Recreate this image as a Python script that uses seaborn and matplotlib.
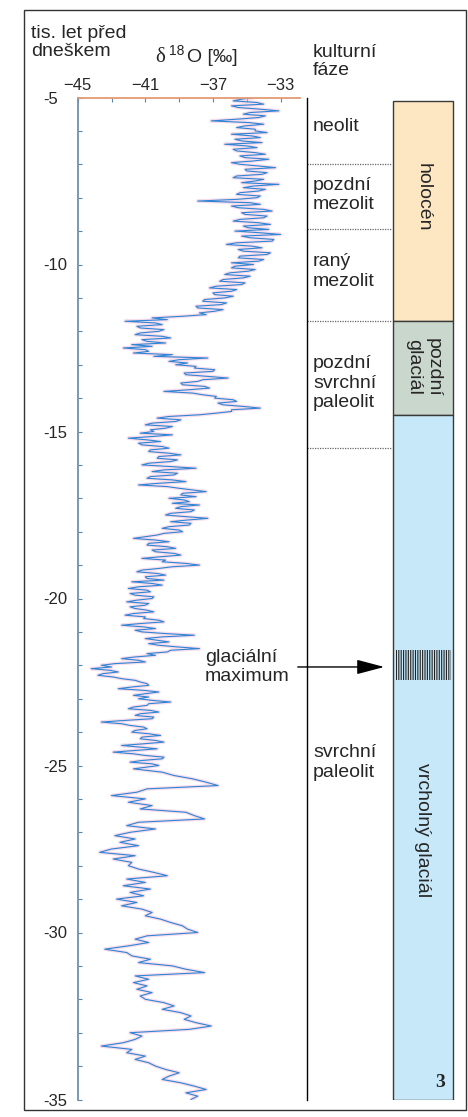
import numpy as np
import pandas as pd
import seaborn as sns
from matplotlib import pyplot as plt
from matplotlib.patches import Rectangle

# delta 18O [permil] precteno z obrazku
# cast A: -5.0 az -24.95 tis. let, krok 0.05 (jeden radek = 1 tis. let)
d18o_a = [
    -34.6, -35.3, -35.8, -34.4, -34.0, -35.9, -35.5, -34.2, -33.1, -34.8, -35.2, -33.9, -34.3, -35.6, -37.1, -34.9, -34.0, -35.1, -35.6, -34.5,  # -5
    -34.5, -33.8, -35.9, -34.7, -34.2, -35.7, -35.3, -34.1, -36.3, -35.0, -34.4, -35.8, -35.6, -34.5, -33.9, -35.4, -35.1, -33.7, -34.6, -35.9,  # -6
    -35.4, -34.3, -33.3, -35.1, -35.0, -33.8, -34.1, -35.6, -35.8, -34.0, -34.5, -35.3, -33.1, -34.6, -35.2, -33.9, -34.3, -35.4, -35.6, -34.2,  # -7
    -34.4, -35.6, -37.9, -34.8, -34.2, -35.9, -35.5, -34.0, -33.5, -35.3, -35.1, -33.8, -34.0, -35.4, -35.8, -34.3, -33.6, -35.2, -34.9, -33.7,  # -8
    -35.7, -34.2, -33.0, -35.3, -34.8, -33.4, -33.5, -35.6, -36.2, -34.7, -34.1, -35.5, -35.2, -33.6, -33.8, -35.4, -35.5, -34.0, -34.3, -35.9,  # -9
    -34.6, -35.7, -35.9, -34.5, -34.9, -36.0, -36.3, -34.8, -35.2, -36.4, -36.6, -35.1, -35.3, -36.8, -37.2, -35.6, -35.9, -37.0, -36.9, -35.8,  # -10
    -36.3, -37.5, -37.6, -36.2, -36.5, -38.0, -37.9, -36.4, -36.9, -37.8, -37.4, -38.8, -40.6, -39.7, -42.2, -40.4, -40.0, -41.5, -41.3, -39.9,  # -11
    -40.2, -41.3, -41.6, -40.0, -39.5, -41.2, -40.9, -39.8, -41.8, -40.6, -42.3, -41.0, -40.8, -41.7, -39.4, -40.5, -37.3, -39.0, -39.6, -38.5,  # -12
    -39.2, -38.0, -38.1, -36.9, -37.0, -38.7, -38.6, -37.3, -36.1, -37.6, -37.9, -38.9, -38.8, -37.5, -37.2, -38.4, -39.9, -38.2, -37.6, -36.8,  # -13
    -36.9, -35.8, -35.6, -36.7, -36.4, -35.2, -34.2, -35.9, -35.9, -36.8, -37.8, -39.6, -40.3, -38.9, -39.2, -40.6, -41.0, -39.4, -39.8, -40.7,  # -14
    -40.5, -41.3, -39.4, -40.6, -42.0, -40.9, -40.1, -41.4, -41.2, -40.0, -39.6, -40.7, -40.8, -39.6, -38.9, -40.2, -40.3, -39.1, -39.5, -40.8,  # -15
    -41.2, -39.5, -38.0, -39.9, -40.6, -39.1, -39.3, -40.7, -40.9, -39.4, -38.6, -40.2, -41.4, -39.7, -39.0, -38.2, -37.4, -38.8, -38.9, -38.0,  # -16
    -39.6, -38.7, -38.4, -39.4, -37.8, -38.9, -39.2, -38.1, -38.3, -39.5, -39.8, -38.6, -37.3, -38.5, -39.5, -38.3, -38.4, -39.6, -40.0, -39.0,  # -17
    -38.8, -39.9, -40.3, -41.0, -41.7, -40.4, -39.6, -40.8, -40.9, -39.7, -39.2, -40.6, -40.4, -39.3, -38.9, -40.1, -41.2, -39.8, -40.0, -38.6,  # -18
    -37.8, -39.4, -40.2, -41.2, -41.5, -40.3, -39.8, -41.0, -40.9, -39.9, -41.8, -40.6, -40.0, -41.4, -42.0, -40.9, -40.7, -41.9, -41.6, -40.5,  # -19
    -40.6, -41.5, -42.1, -40.8, -41.0, -41.9, -41.6, -40.9, -40.5, -41.7, -42.2, -41.0, -41.1, -40.2, -39.9, -41.3, -42.4, -41.1, -40.4, -41.6,  # -20
    -41.2, -39.8, -38.1, -40.0, -41.0, -40.3, -39.6, -40.8, -40.2, -39.1, -37.8, -39.5, -39.7, -40.9, -40.4, -41.6, -42.4, -41.4, -41.0, -42.8,  # -21
    -43.6, -43.0, -44.2, -43.1, -42.6, -43.5, -43.8, -42.9, -42.4, -41.6, -41.3, -40.9, -40.8, -41.8, -42.6, -41.1, -40.2, -41.0, -41.7, -40.8,  # -22
    -41.4, -40.6, -39.5, -40.8, -40.9, -41.7, -42.0, -40.7, -40.2, -41.3, -41.6, -40.5, -40.6, -42.2, -43.6, -42.4, -41.9, -41.1, -40.9, -41.6,  # -23
    -41.8, -40.8, -40.1, -41.2, -41.3, -40.4, -39.9, -41.1, -42.4, -41.3, -40.3, -41.6, -42.9, -41.7, -41.0, -39.9, -40.0, -41.2, -41.9, -40.6,  # -24
]
# cast B: -25.0 az -35.0 tis. let, krok 0.1
d18o_b = [
    -40.2, -41.7, -40.0, -39.3, -38.2, -37.4, -36.7, -40.9, -41.5, -43.0,   # -25
    -41.0, -42.0, -40.6, -41.3, -38.6, -38.1, -37.5, -41.4, -42.1, -40.4,   # -26
    -41.9, -42.8, -41.6, -42.5, -41.4, -43.0, -43.7, -41.6, -42.9, -41.8,   # -27
    -42.0, -41.4, -40.5, -39.7, -42.1, -41.0, -42.3, -40.7, -41.9, -41.1,   # -28
    -42.7, -41.5, -42.4, -41.2, -40.6, -41.0, -40.1, -39.5, -38.8, -38.5,   # -29
    -37.9, -40.9, -41.6, -40.8, -42.0, -43.4, -42.1, -41.8, -40.7, -41.4,   # -30
    -39.4, -38.6, -37.5, -41.6, -40.8, -41.7, -40.9, -41.5, -40.6, -41.3,   # -31
    -41.0, -39.9, -39.3, -40.0, -38.9, -38.3, -38.7, -38.0, -37.1, -38.4,   # -32
    -41.9, -41.2, -41.6, -42.3, -43.6, -41.8, -42.1, -41.0, -41.6, -40.8,   # -33
    -40.4, -39.8, -39.0, -39.6, -40.0, -38.9, -38.1, -37.4, -38.6, -37.9,   # -34
    -38.3,                                                                  # -35
]

# kulturni faze - hranice (tis. let)
culture_bounds = [-7.0, -8.95, -11.7, -15.5]
culture_labels = ['neolit', 'pozdní\nmezolit', 'raný\nmezolit',
                  'pozdní\nsvrchní\npaleolit', 'svrchní\npaleolit']
culture_label_age = [-5.88, -7.92, -10.21, -13.55, -24.91]

# obdobi
period_top = [-5.1, -11.7, -14.5]
period_bottom = [-11.7, -14.5, -35.0]
period_labels = ['holocén', 'pozdní\nglaciál', 'vrcholný glaciál']
period_label_age = [-7.98, -13.07, -26.93]
period_colors = ['#fde7c3', '#c9d7cd', '#c6e8f8']

# glacialni maximum
lgm_top = -21.55
lgm_bottom = -22.45
lgm_age = -22.05

age_a = np.round(-5.0 - 0.05 * np.arange(len(d18o_a)), 2)
age_b = np.round(-25.0 - 0.1 * np.arange(len(d18o_b)), 2)
data = pd.DataFrame({'age': np.concatenate([age_a, age_b]),
                     'd18o': d18o_a + d18o_b})

sns.set_style('white')
plt.rcParams['font.family'] = ['Liberation Sans', 'DejaVu Sans']

W, H = 468, 1117
fig = plt.figure(figsize=(W / 100, H / 100), dpi=100)

def fx(px):
    return px / W

def fy(py):
    return 1 - py / H

ax_bottom = fy(1099.5)
ax_height = 1002 / H
ax = fig.add_axes([fx(77.7), ax_bottom, 222.3 / W, ax_height])

sns.lineplot(data=data, x='d18o', y='age', sort=False, estimator=None,
             color='#f0bcd8', lw=2.6, alpha=0.5, ax=ax)
sns.lineplot(data=data, x='d18o', y='age', sort=False, estimator=None,
             color='#2f84d4', lw=0.8, ax=ax)

ax.set_xlim(-45, -31.85)
ax.set_ylim(-35, -5)
ax.set_xlabel('')
ax.set_ylabel('')
ax.xaxis.tick_top()
ax.set_xticks([-45, -41, -37, -33])
ax.set_xticks([-43, -39, -35], minor=True)
ax.set_yticks(np.arange(-35, -4, 5))
ax.set_yticks(np.arange(-35, -4, 1), minor=True)
ax.set_yticklabels([str(v) for v in range(-35, -4, 5)])
ax.tick_params(axis='x', which='both', direction='in', length=3, width=0.8,
               color='#5b86a8', pad=3, labelsize=12, top=True, bottom=False)
ax.tick_params(axis='y', which='both', direction='in', length=3, width=0.8,
               color='#5b86a8', pad=25, labelsize=12, left=True)
for lab in ax.get_yticklabels():
    lab.set_ha('left')
ax.spines['right'].set_visible(False)
ax.spines['bottom'].set_visible(False)
ax.spines['left'].set_color('#6f8fae')
ax.spines['top'].set_color('#e39a74')
ax.spines['left'].set_linewidth(1.3)
ax.spines['top'].set_linewidth(1.3)
ax.set_facecolor('none')

# prava cast - kulturni faze a obdobi
ax2 = fig.add_axes([fx(306.7), ax_bottom, (462 - 306.7) / W, ax_height])
ax2.set_xlim(306.7, 462)
ax2.set_ylim(-35, -5)
ax2.set_facecolor('none')
for s in ['top', 'right', 'bottom']:
    ax2.spines[s].set_visible(False)
ax2.spines['left'].set_color('black')
ax2.spines['left'].set_linewidth(1.0)
ax2.set_xticks([])
ax2.set_yticks([])

ax2.hlines(culture_bounds, 306.7, 392, colors='#666666', linestyles=(0, (1, 1)), lw=0.9)

heights = [t - b for t, b in zip(period_top, period_bottom)]
ax2.bar(423, heights, width=60, bottom=period_bottom, color=period_colors,
        edgecolor='#3a3a3a', lw=1.0)
plt.rcParams['hatch.linewidth'] = 0.8
ax2.bar(423.5, lgm_top - lgm_bottom, width=55, bottom=lgm_bottom, fill=False,
        hatch='|' * 7, edgecolor='#222222', lw=0)

for lab, a in zip(culture_labels, culture_label_age):
    ax2.text(313, a, lab, ha='left', va='center', fontsize=14, linespacing=1.2)
for lab, a in zip(period_labels, period_label_age):
    ax2.text(423, a, lab, ha='center', va='center', fontsize=14, rotation=270,
             linespacing=1.2)

ax2.text(205, lgm_age, 'glaciální\nmaximum', ha='left', va='center',
         fontsize=14, linespacing=1.1)
ax2.annotate('', xy=(387, lgm_age), xytext=(295, lgm_age), annotation_clip=False,
             arrowprops=dict(arrowstyle='-|>,head_length=1.7,head_width=0.45',
                             mutation_scale=10, color='black', lw=1.0))
ax2.text(440, -34.48, '3', ha='center', va='center', fontsize=14,
         fontweight='bold', family='Liberation Serif')

# hlavicky
fig.text(fx(31), fy(42.5), 'tis. let před\ndneškem', ha='left', va='center',
         fontsize=14, linespacing=1.15)
fig.text(fx(155), fy(62), 'δ', ha='left', va='baseline', fontsize=15,
         family='Liberation Serif')
fig.text(fx(169), fy(55), '18', ha='left', va='baseline', fontsize=10)
fig.text(fx(187), fy(62), 'O [‰]', ha='left', va='baseline', fontsize=14)
fig.text(fx(313), fy(61.5), 'kulturní\nfáze', ha='left', va='center',
         fontsize=14, linespacing=1.15)

fig.patches.append(Rectangle((fx(24), fy(1110)), (466 - 24) / W, (1110 - 10) / H,
                             transform=fig.transFigure, fill=False,
                             ec='#333333', lw=1.0))

fig.savefig('out.png', dpi=100)
